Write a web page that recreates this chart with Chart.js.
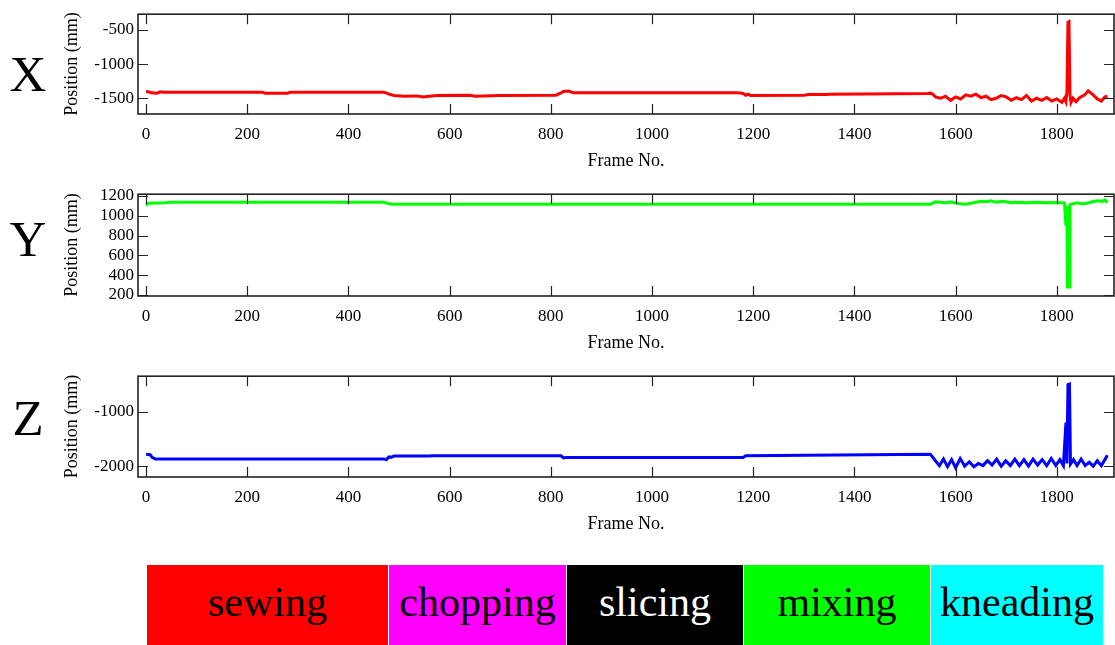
<!DOCTYPE html>
<html>
<head>
<meta charset="utf-8">
<script src="https://cdn.jsdelivr.net/npm/chart.js@4/dist/chart.umd.min.js"></script>
<style>
  body { margin: 0; background: #fff; width: 1115px; height: 645px; position: relative; overflow: hidden; }
  canvas { position: absolute; left: 0; }
  .axis-name { position: absolute; left: 6px; width: 44px; text-align: center; font: 51px 'Liberation Serif', 'Times New Roman', serif; line-height: 51px; color: #000; }
  .task { position: absolute; top: 565px; height: 80px; display: flex; align-items: center; justify-content: center; font: 42px 'Liberation Serif', 'Times New Roman', serif; line-height: 42px; padding-bottom: 6px; box-sizing: border-box; }
</style>
</head>
<body>

<div class="axis-name" style="top:49px">X</div>
<div class="axis-name" style="top:214px">Y</div>
<div class="axis-name" style="top:393px">Z</div>

<canvas id="chartX" width="1115" height="172" style="top:0px"></canvas>
<canvas id="chartY" width="1115" height="174" style="top:180px"></canvas>
<canvas id="chartZ" width="1115" height="173" style="top:362px"></canvas>

<div id="tasks"></div>

<script>
// X position per frame
const xFrames = [0, 5, 10, 22, 28, 35, 230, 235, 280, 285, 470, 480, 490, 510, 535, 548, 555, 575, 640, 650, 700, 810, 818, 825, 835, 845,
  1170, 1180, 1185, 1190, 1195, 1300, 1310, 1345, 1350, 1545, 1550,
  1555, 1560, 1570, 1580, 1590, 1600, 1610, 1620, 1630, 1640, 1650, 1660, 1670, 1680, 1690, 1700, 1710, 1720, 1730, 1740, 1750, 1760,
  1770, 1780, 1790, 1800, 1810, 1815, 1818, 1820, 1822, 1824, 1826, 1828, 1832, 1838, 1845, 1855, 1862, 1870, 1880, 1888, 1895, 1900];
const xPos = [-1400, -1405, -1420, -1425, -1405, -1410, -1410, -1425, -1425, -1410, -1410, -1440, -1460, -1470, -1465, -1480, -1475, -1460, -1455, -1470, -1460, -1455, -1430, -1400, -1395, -1420,
  -1420, -1430, -1455, -1440, -1460, -1455, -1445, -1445, -1440, -1430, -1425,
  -1440, -1480, -1500, -1470, -1530, -1480, -1510, -1450, -1470, -1440, -1490, -1470, -1520, -1500, -1460, -1480, -1530, -1490, -1520, -1460, -1540, -1500,
  -1530, -1490, -1540, -1510, -1560, -1500, -1550, -1400, -390, -380, -1450, -1560, -1500, -1550, -1490, -1450, -1390, -1440, -1510, -1540, -1480, -1470];

// Y position per frame
const yFrames = [0, 5, 40, 45, 470, 480, 490, 1550, 1560, 1570, 1580, 1590, 1600, 1610, 1620, 1630, 1640, 1650, 1660, 1670, 1680, 1690, 1700,
  1710, 1720, 1740, 1760, 1780, 1800, 1815, 1818, 1820, 1821, 1825, 1826, 1830, 1840, 1850, 1860, 1870, 1880, 1890, 1895, 1900];
const yPos = [1105, 1125, 1130, 1135, 1135, 1120, 1115, 1115, 1140, 1135, 1130, 1138, 1128, 1120, 1115, 1125, 1135, 1145, 1140, 1150, 1135, 1145, 1140,
  1130, 1135, 1130, 1135, 1130, 1132, 1128, 900, 1100, 280, 280, 1110, 1120, 1130, 1120, 1125, 1140, 1150, 1145, 1160, 1130];

// Z position per frame
const zFrames = [0, 8, 12, 18, 470, 475, 480, 485, 490, 560, 565, 820, 825, 830, 1180, 1185, 1550,
  1560, 1568, 1576, 1584, 1592, 1600, 1609, 1618, 1627, 1636, 1645, 1654, 1663, 1672, 1681, 1690, 1699, 1708, 1717, 1726,
  1735, 1744, 1753, 1762, 1771, 1780, 1789, 1798, 1806, 1813, 1818, 1820, 1822, 1825,
  1827, 1833, 1840, 1848, 1856, 1864, 1872, 1880, 1888, 1895, 1900];
const zPos = [-1780, -1790, -1840, -1870, -1870, -1880, -1830, -1835, -1815, -1815, -1810, -1810, -1850, -1840, -1840, -1810, -1780,
  -1900, -1990, -1870, -2010, -1880, -2030, -1860, -2000, -1920, -2010, -1950, -1990, -1900, -1980, -1870, -2000, -1900, -1990, -1870, -1990,
  -1880, -2000, -1870, -1980, -1880, -1990, -1860, -1990, -1880, -1990, -1200, -1950, -500, -490,
  -1960, -1880, -1990, -1870, -1990, -1930, -2000, -1900, -1990, -1880, -1800];

const frameTicks = [0, 200, 400, 600, 800, 1000, 1200, 1400, 1600, 1800];
const xPosTicks = [-1500, -1000, -500];
const yPosTicks = [200, 400, 600, 800, 1000, 1200];
const zPosTicks = [-2000, -1000];

// task strip under the plots
const taskNames = ['sewing', 'chopping', 'slicing', 'mixing', 'kneading'];
const taskColors = ['#ff0000', '#ff00ff', '#000000', '#00ff00', '#00ffff'];
const taskText = ['#000', '#000', '#fff', '#000', '#000'];

const serif = "'Liberation Serif', 'Times New Roman', serif";

// box round the plot plus inward tick marks on all four sides
const boxTicks = {
  id: 'boxTicks',
  afterDatasetsDraw(chart) {
    const {ctx, chartArea: a, scales} = chart;
    const len = 10;
    ctx.save();
    ctx.strokeStyle = '#222';
    ctx.lineWidth = 1.2;
    ctx.beginPath();
    scales.x.ticks.forEach(t => {
      const p = Math.round(scales.x.getPixelForValue(t.value)) + 0.5;
      ctx.moveTo(p, a.bottom); ctx.lineTo(p, a.bottom - len);
      ctx.moveTo(p, a.top); ctx.lineTo(p, a.top + len);
    });
    scales.y.ticks.forEach(t => {
      const p = Math.round(scales.y.getPixelForValue(t.value)) + 0.5;
      ctx.moveTo(a.left, p); ctx.lineTo(a.left + len, p);
      ctx.moveTo(a.right, p); ctx.lineTo(a.right - len, p);
    });
    ctx.stroke();
    ctx.lineWidth = 1.6;
    ctx.strokeRect(a.left, a.top, a.right - a.left, a.bottom - a.top);
    ctx.restore();
  }
};

function makeChart(id, frames, values, color, yMin, yMax, yTicks, padTop) {
  const pts = frames.map((f, i) => ({x: f, y: values[i]}));
  return new Chart(document.getElementById(id), {
    type: 'line',
    data: {
      datasets: [{
        data: pts,
        borderColor: color,
        borderWidth: 3,
        pointRadius: 0,
        tension: 0,
        fill: false
      }]
    },
    options: {
      responsive: false,
      animation: false,
      layout: { padding: { left: 61, top: padTop, right: 1, bottom: 0 } },
      plugins: { legend: { display: false }, tooltip: { enabled: false } },
      scales: {
        x: {
          type: 'linear',
          min: -16,
          max: 1913,
          afterBuildTicks: s => { s.ticks = frameTicks.map(v => ({value: v})); },
          afterFit: s => { s.height = 58; },
          grid: { display: false, drawTicks: false },
          border: { display: false },
          ticks: { color: '#000', padding: 10, maxRotation: 0, autoSkip: false, callback: v => String(v), font: { family: serif, size: 17 } },
          title: { display: true, text: 'Frame No.', color: '#000', padding: 0, font: { family: serif, size: 18 } }
        },
        y: {
          type: 'linear',
          min: yMin,
          max: yMax,
          afterBuildTicks: s => { s.ticks = yTicks.map(v => ({value: v})); },
          afterFit: s => { s.width = 77; },
          grid: { display: false, drawTicks: false },
          border: { display: false },
          ticks: { color: '#000', padding: 4, autoSkip: false, callback: v => String(v), font: { family: serif, size: 17 } },
          title: { display: true, text: 'Position (mm)', color: '#000', padding: 0, font: { family: serif, size: 18 } }
        }
      }
    },
    plugins: [boxTicks]
  });
}

makeChart('chartX', xFrames, xPos, '#ff0000', -1730, -270, xPosTicks, 12);
makeChart('chartY', yFrames, yPos, '#00ff00', 190, 1217, yPosTicks, 14);
makeChart('chartZ', zFrames, zPos, '#0000ff', -2200, -345, zPosTicks, 13);

// colour strip
const stripLeft = [147, 389, 567, 744, 931];
const stripRight = [388, 566, 743, 930, 1103];
const tasks = document.getElementById('tasks');
taskNames.forEach((name, i) => {
  const d = document.createElement('div');
  d.className = 'task';
  d.style.left = stripLeft[i] + 'px';
  d.style.width = (stripRight[i] - stripLeft[i]) + 'px';
  d.style.background = taskColors[i];
  d.style.color = taskText[i];
  d.textContent = name;
  tasks.appendChild(d);
});
</script>
</body>
</html>
